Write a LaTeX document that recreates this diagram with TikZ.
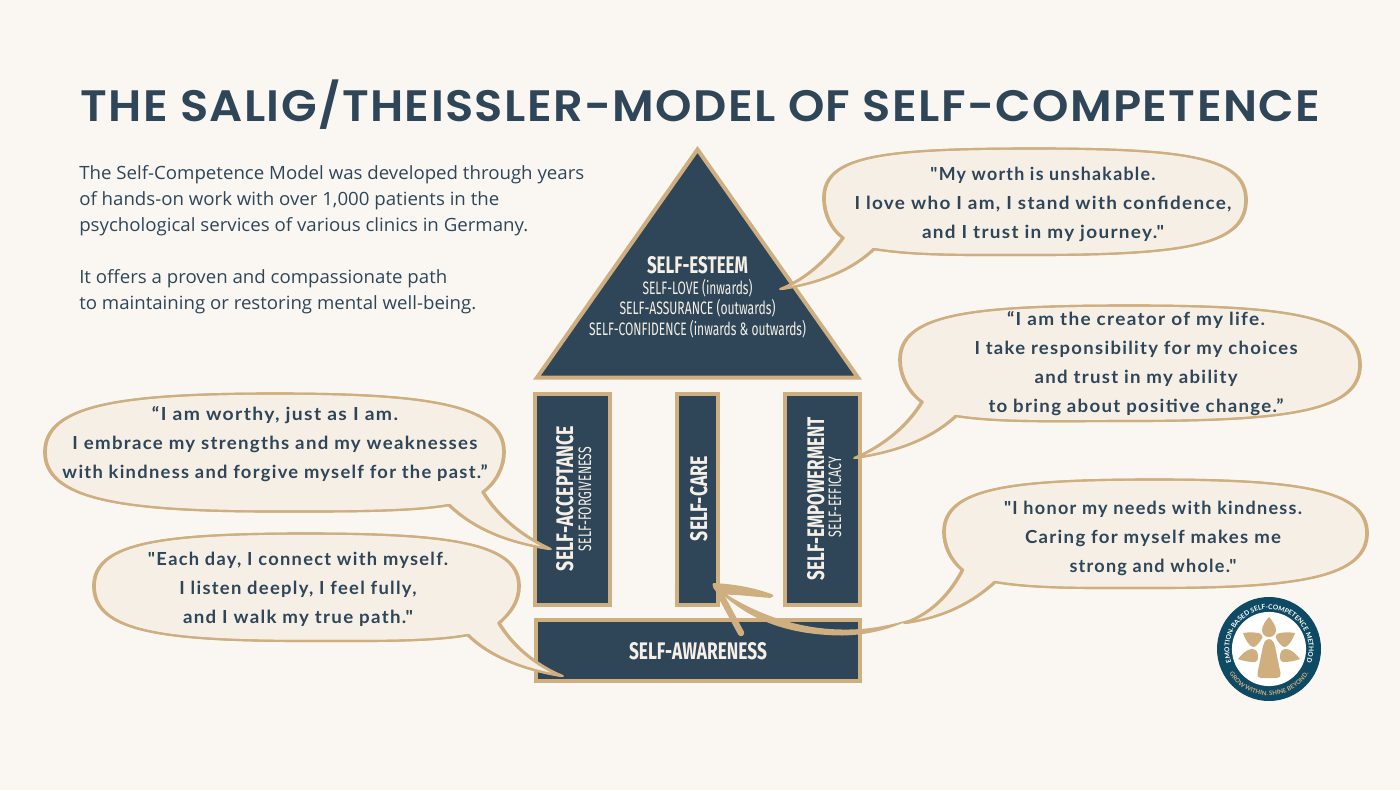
\documentclass[tikz,border=0pt]{standalone}
\usepackage{fontspec}
\usepackage{graphicx}
\usetikzlibrary{decorations.text}
\setmainfont{Open Sans}
\newfontfamily\titlefont[LetterSpace=3]{Poppins SemiBold}
\newfontfamily\condfont{Fira Sans}
\newfontfamily\handfont[LetterSpace=7]{Lato}
\newfontfamily\logofont{Lato}
\definecolor{navy}{HTML}{2E4658}
\definecolor{tan}{HTML}{CFAE7F}
\definecolor{paper}{HTML}{FAF7F2}
\definecolor{cream}{HTML}{F5EFE6}
\definecolor{ring}{HTML}{0E4A63}
\newcommand{\fit}[2]{\resizebox{\dimexpr #1pt*3/4\relax}{\height}{#2}}
\newcommand{\hl}[2]{\fit{#1}{\strut #2}}
\newcommand{\tight}{\lineskip=0pt\lineskiplimit=-20pt}
\newcommand{\bubbledraw}[1]{%
  \fill[cream] #1;
  \draw[bubline,xshift=-.6pt] #1;
  \draw[bubline,xshift=.6pt] #1;
}
\tikzset{
  block/.style={draw=tan,fill=navy,line width=3pt,line join=miter},
  bubline/.style={draw=tan,line width=1.6pt,line join=round},
  quote/.style={inner sep=0,outer sep=0,align=center,text=navy,font=\handfont\bfseries\fontsize{13.5}{21.75}\selectfont\tight},
  headb/.style={inner sep=0,outer sep=0,text=cream,font=\condfont\bfseries\fontsize{18}{20}\selectfont\tight},
  headr/.style={inner sep=0,outer sep=0,text=cream,font=\condfont\fontsize{13.5}{15.4}\selectfont\tight},
  petal/.style={fill=tan,draw=none},
}
\def\bA{(843,238) .. controls (831,229) and (824,214) .. (824,198)
 .. controls (824,156) and (880,148.5) .. (1035,148.5)
 .. controls (1190,148.5) and (1246,158) .. (1246,200)
 .. controls (1246,244) and (1190,255) .. (1035,255)
 .. controls (970,255) and (915,256) .. (874,249)
 .. controls (850,272) and (815,284) .. (781,289)
 .. controls (808,278) and (828,258) .. (843,238) -- cycle}
\def\bB{(922,402) .. controls (908,392) and (900,375) .. (900,360)
 .. controls (900,314) and (970,305.5) .. (1130,305.5)
 .. controls (1290,305.5) and (1360,316) .. (1360,365)
 .. controls (1360,411) and (1290,421) .. (1130,421)
 .. controls (1060,421) and (1000,423) .. (956,416)
 .. controls (930,440) and (895,452) .. (855,458)
 .. controls (885,445) and (908,425) .. (922,402) -- cycle}
\def\bC{(962.5,570) .. controls (950,560) and (944,545) .. (944,532)
 .. controls (944,488) and (1010,479.5) .. (1155,479.5)
 .. controls (1300,479.5) and (1367,490) .. (1367,533)
 .. controls (1367,577) and (1300,588) .. (1155,588)
 .. controls (1090,588) and (1035,589) .. (995,582)
 .. controls (970,605) and (940,618) .. (905,623)
 .. controls (935,612) and (952,590) .. (962.5,570) -- cycle}
\def\bD{(483,492) .. controls (497,482) and (504,466) .. (504,452)
 .. controls (504,405) and (430,393.5) .. (275,393.5)
 .. controls (120,393.5) and (45,405) .. (45,452)
 .. controls (45,499) and (120,511.5) .. (275,511.5)
 .. controls (340,511.5) and (410,512) .. (449,505)
 .. controls (475,530) and (510,543) .. (550,549)
 .. controls (520,535) and (497,515) .. (483,492) -- cycle}
\def\bE{(499,623) .. controls (512,612) and (519,600) .. (519,586)
 .. controls (519,543) and (450,533.5) .. (306,533.5)
 .. controls (160,533.5) and (94,543) .. (94,586)
 .. controls (94,631) and (160,641) .. (306,641)
 .. controls (370,641) and (430,642) .. (468,635)
 .. controls (490,657) and (525,670) .. (562,676)
 .. controls (535,665) and (512,645) .. (499,623) -- cycle}
\begin{document}
\begin{tikzpicture}[x=.75pt,y=-.75pt]
\useasboundingbox (0,0) rectangle (1400,790);
\fill[paper] (0,0) rectangle (1400,790);
% title and intro
\node[anchor=base west,inner sep=0,text=navy,font=\titlefont\fontsize{33}{40}\selectfont] (title) at (80,121.5) {\fit{1240}{THE SALIG/THEISSLER-MODEL OF SELF-COMPETENCE}};
\node[anchor=north west,inner sep=0,align=left,text=navy,font=\fontsize{13.7}{19.5}\selectfont\tight] (intro) at (79,161.5) {%
\fit{505}{\strut The Self-Competence Model was developed through years}\\
\fit{420}{\strut of hands-on work with over 1,000 patients in the}\\
\fit{449}{\strut psychological services of various clinics in Germany.}\\[19.5pt]
\fit{368}{\strut It offers a proven and compassionate path}\\
\fit{397}{\strut to maintaining or restoring mental well-being.}};
% house
\path[block] (697.5,149.5) -- (537,377.5) -- (858,377.5) -- cycle;
\node[block,inner sep=0] (pillarA) at (572.5,499.5) {\tikz[x=.75pt,y=.75pt]\path (0,0) rectangle (75,211);};
\node[block,inner sep=0] (pillarB) at (697.5,499.5) {\tikz[x=.75pt,y=.75pt]\path (0,0) rectangle (41,211);};
\node[block,inner sep=0] (pillarC) at (822.5,499.5) {\tikz[x=.75pt,y=.75pt]\path (0,0) rectangle (75,211);};
\node[block,inner sep=0] (base) at (698,650.5) {\tikz[x=.75pt,y=.75pt]\path (0,0) rectangle (324,61);};
% house text
\node[headb,anchor=base] (esteem) at (697.5,273) {\fit{101}{SELF-ESTEEM}};
\node[headr,anchor=center,align=center] (esteemsub) at (697.5,310.4) {%
\fit{110}{\strut SELF-LOVE (inwards)}\\\fit{156}{\strut SELF-ASSURANCE (outwards)}\\\fit{217}{\strut SELF-CONFIDENCE (inwards \& outwards)}};
\node[headb,rotate=90,anchor=base] (acc) at (573,498.5) {\fit{145}{SELF-ACCEPTANCE}};
\node[headr,rotate=90,anchor=base] (forg) at (591,499) {\fit{104}{SELF-FORGIVENESS}};
\node[headb,rotate=90,anchor=base] (care) at (707,498.5) {\fit{85}{SELF-CARE}};
\node[headb,rotate=90,anchor=base] (emp) at (824,498.5) {\fit{163}{SELF-EMPOWERMENT}};
\node[headr,rotate=90,anchor=base] (eff) at (841,497) {\fit{80}{SELF-EFFICACY}};
\node[headb,anchor=base] (aware) at (698,659) {\fit{138}{SELF-AWARENESS}};
% bubbles
\bubbledraw{\bA}
\bubbledraw{\bB}
\bubbledraw{\bC}
\bubbledraw{\bD}
\bubbledraw{\bE}
\node[quote] (qA) at (1043,203.2) {\hl{225}{"My worth is unshakable.}\\\hl{377}{I love who I am, I stand with confidence,}\\\hl{242}{and I trust in my journey."}};
\node[quote] (qB) at (1136,363.2) {\hl{258}{“I am the creator of my life.}\\\hl{323}{I take responsibility for my choices}\\\hl{203}{and trust in my ability}\\\hl{295}{to bring about positive change.”}};
\node[quote] (qC) at (1153,538) {\hl{298}{"I honor my needs with kindness.}\\\hl{256}{Caring for myself makes me}\\\hl{167}{strong and whole."}};
\node[quote] (qD) at (275,443.2) {\hl{246}{“I am worthy, just as I am.}\\\hl{405}{I embrace my strengths and my weaknesses}\\\hl{425}{with kindness and forgive myself for the past.”}};
\node[quote] (qE) at (298,588.2) {\hl{300}{"Each day, I connect with myself.}\\\hl{237}{I listen deeply, I feel fully,}\\\hl{230}{and I walk my true path."}};
% hand-drawn arrow
\coordinate (tip) at (714,586);
\coordinate (tailjoin) at (912,619);
\fill[tan] (tip) .. controls (750,612) and (795,629) .. (842,629.5) .. controls (870,630) and (890,625) .. (tailjoin)
  .. controls (890,629) and (870,635) .. (842,635.5) .. controls (795,635) and (750,624) .. (tip) -- cycle;
\fill[tan,rounded corners=1.5pt] (712,583) .. controls (735,584) and (755,588) .. (774,595) -- (772,598) .. controls (755,597) and (735,594) .. (722,595) -- (714,590) -- cycle;
\draw[tan,line width=4.8pt,line cap=round] (719,592) -- (741,633);
% logo
\begin{scope}[shift={(1269,649)},x=.75pt,y=.75pt]
\fill[ring] (0,0) circle[radius=39pt];
\fill[white] (0,0) circle[radius=27.8pt];
\path[decorate,decoration={text along path,text align={align=center},text={|\logofont\bfseries\fontsize{5}{5}\selectfont\color{white}|EMOTION-BASED SELF-COMPETENCE METHOD}}] (196:29.8pt) arc[start angle=196,end angle=-16,radius=29.8pt];
\path[decorate,decoration={text along path,text align={align=center},text={|\logofont\bfseries\fontsize{4.6}{5}\selectfont\color{tan}|GROW WITHIN. SHINE BEYOND.}}] (205:35pt) arc[start angle=205,end angle=335,radius=35pt];
\fill[petal] (0,32) .. controls (3,29) and (7,23) .. (7,19) .. controls (7,14) and (3,12) .. (0,12) .. controls (-3,12) and (-7,14) .. (-7,19) .. controls (-7,23) and (-3,29) .. (0,32) -- cycle;
\fill[petal] (0,10) .. controls (4,10) and (6,5) .. (7,-2) -- (11.5,-24) .. controls (12,-27) and (11,-29) .. (8,-29) -- (-8,-29) .. controls (-11,-29) and (-12,-27) .. (-11.5,-24) -- (-7,-2) .. controls (-6,5) and (-4,10) .. (0,10) -- cycle;
\foreach \s in {1,-1}{
  \begin{scope}[xscale=\s]
  \fill[petal] (-26,16) .. controls (-20,17) and (-12,17) .. (-8,15) .. controls (-6,13) and (-6,11) .. (-8,9) .. controls (-11,5) and (-13,2) .. (-16,2) .. controls (-20,3) and (-24,10) .. (-26,16) -- cycle;
  \fill[petal] (-31,-10) .. controls (-27,-5) and (-22,0) .. (-17,0) .. controls (-13,0) and (-11,-3) .. (-11,-7) .. controls (-11,-11) and (-12,-13) .. (-14,-13) .. controls (-20,-13) and (-26,-12) .. (-31,-10) -- cycle;
  \end{scope}
}
\end{scope}
\end{tikzpicture}
\end{document}
